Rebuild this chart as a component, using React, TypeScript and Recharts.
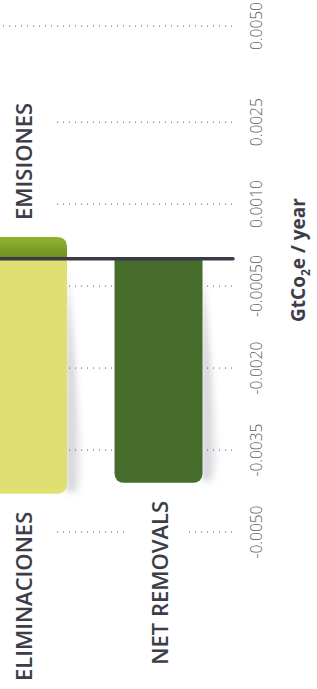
import React from 'react';
import { BarChart, Bar, XAxis, YAxis, CartesianGrid, ReferenceLine, LabelList } from 'recharts';

const categories = ['EMISIONES / ELIMINACIONES', 'NET REMOVALS'];
const emisiones = [0.0004, 0];
const eliminaciones = [-0.0043, 0];
const netRemovals = [0, -0.0041];
const seriesLabels = ['EMISIONES', 'ELIMINACIONES', 'NET REMOVALS'];
const yTicks = [-0.005, -0.0035, -0.002, -0.0005, 0.001, 0.0025, 0.00426];
const yTickLabels = ['-0.0050', '-0.0035', '-0.0020', '-0.00050', '0.0010', '0.0025', '0.0050'];
const yDomain: [number, number] = [-0.005, 0.00426];

const data = categories.map((c, i) => ({
  cat: c,
  emisiones: emisiones[i],
  eliminaciones: eliminaciones[i],
  net: netRemovals[i],
}));

const FONT = "'Open Sans', 'DejaVu Sans', sans-serif";
const DARK = '#3c3d48';

function roundedPath(x: number, y: number, w: number, h: number, r: number[]) {
  const [tl, tr, br, bl] = r;
  return `M${x + tl},${y} H${x + w - tr} A${tr},${tr} 0 0 1 ${x + w},${y + tr} V${y + h - br} A${br},${br} 0 0 1 ${x + w - br},${y + h} H${x + bl} A${bl},${bl} 0 0 1 ${x},${y + h - bl} V${y + tl} A${tl},${tl} 0 0 1 ${x + tl},${y} Z`;
}

const PosBar = (props: any) => {
  const { x, y, width, height, fill } = props;
  if (!height || Math.abs(height) < 0.5) return null;
  const top = Math.min(y, y + height);
  const h = Math.abs(height);
  return <path d={roundedPath(x, top, width, h, [9, 9, 0, 0])} fill={fill} />;
};

const NegBar = (props: any) => {
  const { x, y, width, height, fill } = props;
  if (!height || Math.abs(height) < 0.5) return null;
  const top = Math.min(y, y + height);
  const h = Math.abs(height);
  const bottom = top + h;
  const right = x + width;
  return (
    <g>
      <polygon
        points={`${right},${top + 12} ${right + 17},${bottom - 22} ${right + 10},${bottom - 2} ${right},${bottom - 2}`}
        fill="url(#shadowGrad)"
        filter="url(#shadowBlur)"
      />
      <path d={roundedPath(x, top, width, h, [0, 0, 9, 9])} fill={fill} />
    </g>
  );
};

const makeLabel = (text: string, above: boolean) => (props: any) => {
  const { x, y, width, height, value } = props;
  if (!value || !height || Math.abs(height) < 0.5) return null;
  const top = Math.min(y, y + height);
  const bottom = Math.max(y, y + height);
  const cx = x + width / 2;
  const bx = cx + 9.5;
  const ty = above ? top - 17 : bottom + 18;
  const rectY = above ? ty - 128 : ty - 6;
  const rectH = above ? 134 : 180;
  return (
    <g>
      <rect x={cx - 31} y={rectY} width={61} height={rectH} fill="#ffffff" />
      <text
        x={bx}
        y={ty}
        transform={`rotate(-90, ${bx}, ${ty})`}
        textAnchor={above ? 'start' : 'end'}
        fontFamily={FONT}
        fontWeight={600}
        fontSize={22}
        fill={DARK}
      >
        {text}
      </text>
    </g>
  );
};

const YTick = (props: any) => {
  const { x, y, payload } = props;
  const idx = yTicks.indexOf(payload.value);
  const label = idx >= 0 ? yTickLabels[idx] : String(payload.value);
  const tx = x + 29;
  return (
    <text
      x={tx}
      y={y}
      transform={`rotate(-90, ${tx}, ${y})`}
      textAnchor="middle"
      fontFamily={FONT}
      fontWeight={300}
      fontSize={15.5}
      fill="#5e5e5e"
    >
      {label}
    </text>
  );
};

const AxisTitle = (props: any) => {
  const vb = props.viewBox || { x: 233, y: 26, width: 84, height: 506 };
  const tx = vb.x + 72;
  const ty = vb.y + vb.height / 2 - 19;
  return (
    <text
      x={tx}
      y={ty}
      transform={`rotate(-90, ${tx}, ${ty})`}
      textAnchor="middle"
      fontFamily={FONT}
      fontWeight={700}
      fontSize={19}
      fill={DARK}
    >
      GtCo<tspan fontSize={12} dy={5}>2</tspan><tspan dy={-5}>e / year</tspan>
    </text>
  );
};

export default function App() {
  return (
    <div style={{ position: 'absolute', left: 0, top: 0, width: 317, height: 689, background: '#fff', overflow: 'hidden' }}>
      <BarChart
        width={317}
        height={689}
        data={data}
        stackOffset="sign"
        margin={{ top: 26, right: 0, bottom: 157, left: -45 }}
        barSize={88}
      >
        <defs>
          <linearGradient id="emisGrad" x1="0" y1="0" x2="0" y2="1">
            <stop offset="0%" stopColor="#93b22e" />
            <stop offset="100%" stopColor="#6c9021" />
          </linearGradient>
          <linearGradient id="shadowGrad" x1="0" y1="0" x2="1" y2="0">
            <stop offset="0%" stopColor="#5a5c70" stopOpacity={0.35} />
            <stop offset="100%" stopColor="#5a5c70" stopOpacity={0} />
          </linearGradient>
          <filter id="shadowBlur" x="-50%" y="-10%" width="200%" height="120%">
            <feGaussianBlur stdDeviation="3" />
          </filter>
        </defs>
        <CartesianGrid vertical={false} stroke="#555555" strokeDasharray="1 5" />
        <XAxis dataKey="cat" hide padding={{ left: 0, right: 7 }} />
        <YAxis
          orientation="right"
          type="number"
          domain={yDomain}
          allowDataOverflow
          ticks={yTicks}
          interval={0}
          tick={<YTick />}
          tickSize={0}
          tickMargin={0}
          axisLine={false}
          tickLine={false}
          width={84}
          label={{ content: <AxisTitle /> }}
        />
        <Bar dataKey="emisiones" stackId="a" fill="url(#emisGrad)" shape={<PosBar />} isAnimationActive={false}>
          <LabelList dataKey="emisiones" content={makeLabel(seriesLabels[0], true)} />
        </Bar>
        <Bar dataKey="eliminaciones" stackId="a" fill="#dfe071" shape={<NegBar />} isAnimationActive={false}>
          <LabelList dataKey="eliminaciones" content={makeLabel(seriesLabels[1], false)} />
        </Bar>
        <Bar dataKey="net" stackId="a" fill="#466d2c" shape={<NegBar />} isAnimationActive={false}>
          <LabelList dataKey="net" content={makeLabel(seriesLabels[2], false)} />
        </Bar>
        <ReferenceLine y={0} stroke="#3a3b46" strokeWidth={3.5} strokeLinecap="round" />
      </BarChart>
    </div>
  );
}
